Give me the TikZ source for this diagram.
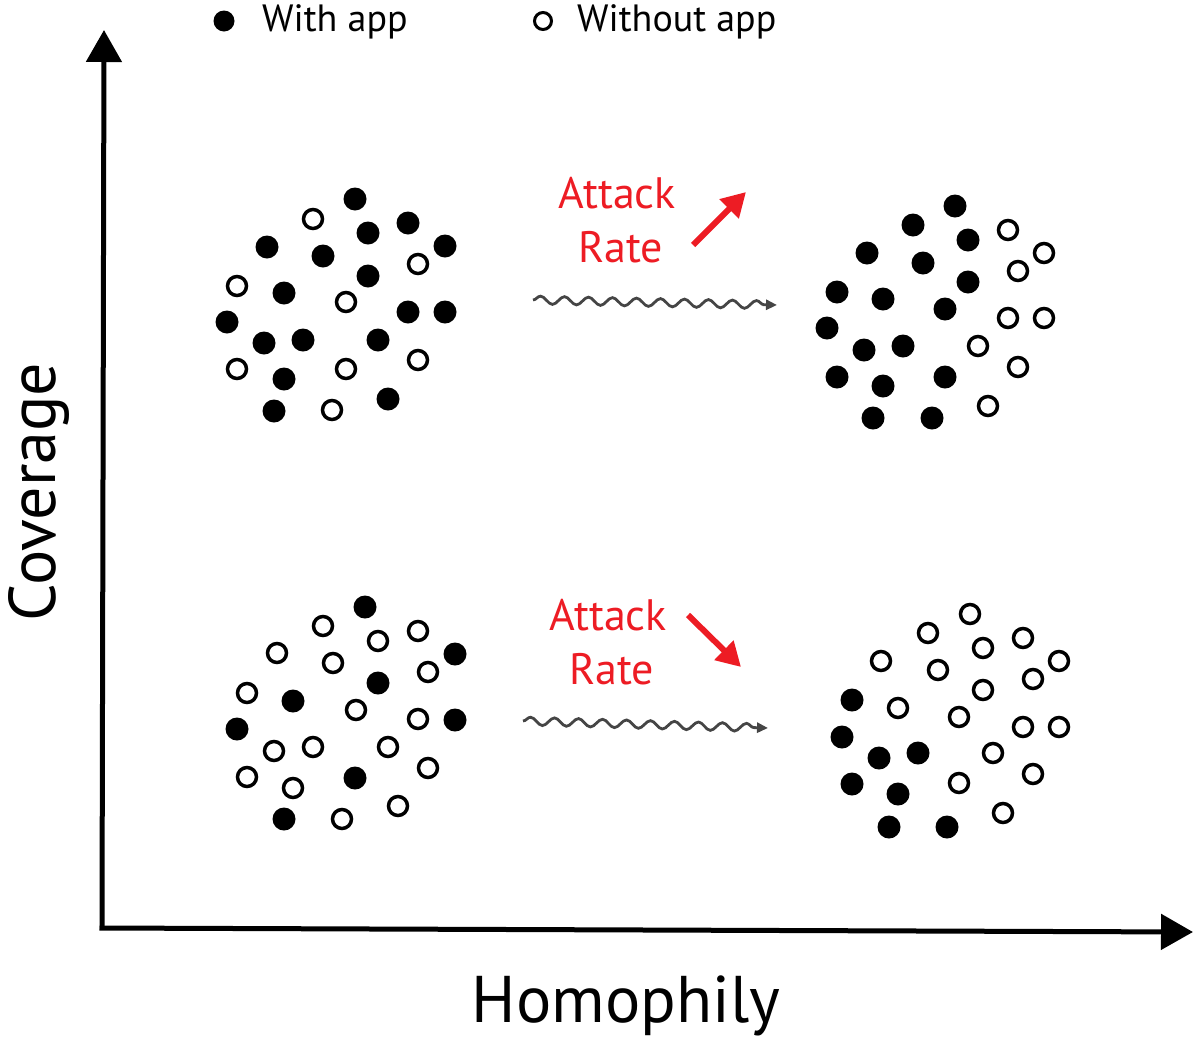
\documentclass[tikz,border=0pt]{standalone}
\usepackage{fontspec}
\setmainfont{PT Sans}
\usepackage{tikz}
\usetikzlibrary{arrows.meta,positioning,decorations.pathmorphing}
\definecolor{arred}{HTML}{ED1C24}
\definecolor{wavegray}{HTML}{454545}

\begin{document}
\begin{tikzpicture}[x=1pt,y=-1pt]
		\tikzstyle{axis}=[line width=5pt,arrows={-Triangle[length=32pt,width=35pt]}]
		\tikzstyle{withapp}=[circle,fill=black,inner sep=0pt,minimum size=23pt]
		\tikzstyle{noapp}=[circle,draw=black,line width=3.5pt,inner sep=0pt,minimum size=19pt]
		\tikzstyle{wave}=[wavegray,line width=2.8pt,decorate,
			decoration={snake,amplitude=4pt,segment length=24pt,post length=8pt},
			arrows={-Triangle[length=11pt,width=10pt]}]
		\tikzstyle{rate}=[line width=6pt,arred,arrows={-Triangle[length=24pt,width=26pt]}]
		\tikzstyle{ratetext}=[text=arred,font=\fontsize{44}{44}\selectfont,anchor=base,inner sep=0pt]

		\useasboundingbox (0,0) rectangle (1200,1042);

		% axes
		\coordinate (origin) at (102,928);
		\coordinate (ytip) at (104,30);
		\coordinate (xtip) at (1193,932);
		\draw [axis] (origin) -- (ytip);
		\draw [axis] ([xshift=-2.5pt]origin) -- (xtip);
		\node[anchor=base,rotate=90,inner sep=0pt,font=\fontsize{66}{66}\selectfont] (ylab) at (55,492) {Coverage};
		\node[anchor=base,inner sep=0pt,font=\fontsize{66}{66}\selectfont] (xlab) at (626,1022) {Homophily};

		% legend
		\node[withapp,minimum size=21pt] (legwith) at (224,21) {};
		\node[anchor=base west,inner sep=0pt,font=\fontsize{38}{38}\selectfont] (legwithtxt) at (262,31) {With app};
		\node[noapp,line width=3pt,minimum size=17pt] (legwithout) at (543,21) {};
		\node[anchor=base west,inner sep=0pt,font=\fontsize{38}{38}\selectfont] (legwithouttxt) at (577,31) {Without app};

		% low homophily, high coverage
		\foreach \x/\y [count=\i] in {355/199,408/223,368/233,445/246,267/247,323/256,368/276,284/293,408/312,445/312,227/322,264/343,303/340,378/340,284/379,388/399,274/411}
			\node[withapp] (tlw\i) at (\x,\y) {};
		\foreach \x/\y [count=\i] in {313/219,418/264,237/286,346/302,237/369,346/369,418/360,332/410}
			\node[noapp] (tlo\i) at (\x,\y) {};

		% high homophily, high coverage
		\foreach \x/\y [count=\i] in {955/206,913/225,968/240,867/253,923/263,968/282,837/292,883/299,945/309,827/328,864/350,903/346,837/377,883/386,945/377,873/418,932/418}
			\node[withapp] (trw\i) at (\x,\y) {};
		\foreach \x/\y [count=\i] in {1008/230,1044/253,1018/271,1008/318,1044/318,978/346,1018/367,988/406}
			\node[noapp] (tro\i) at (\x,\y) {};

		% low homophily, low coverage
		\foreach \x/\y [count=\i] in {365/607,455/654,378/683,293/701,237/729,455/720,355/778,284/819}
			\node[withapp] (blw\i) at (\x,\y) {};
		\foreach \x/\y [count=\i] in {323/626,418/631,378/641,277/653,333/663,428/672,247/693,356/710,418/719,274/751,313/747,388/747,428/768,247/777,293/788,398/806,342/819}
			\node[noapp] (blo\i) at (\x,\y) {};

		% high homophily, low coverage
		\foreach \x/\y [count=\i] in {852/700,842/737,879/758,918/753,852/784,898/794,889/827,947/827}
			\node[withapp] (brw\i) at (\x,\y) {};
		\foreach \x/\y [count=\i] in {970/614,928/633,1023/638,983/648,881/661,938/670,1059/661,1033/679,983/690,898/708,959/717,1023/727,1059/727,993/753,1033/774,959/783,1003/813}
			\node[noapp] (bro\i) at (\x,\y) {};

		% transitions
		\coordinate (topwavestart) at (533,300);
		\coordinate (topwaveend) at (777,305);
		\draw [wave] (topwavestart) -- (topwaveend);
		\node[ratetext] (topattack) at (617,208) {Attack};
		\node[ratetext] (toprate) at (621,262) {Rate};
		\coordinate (topratefrom) at (693,245);
		\coordinate (topratetip) at (746,192);
		\draw [rate] (topratefrom) -- (topratetip);

		\coordinate (botwavestart) at (523,721);
		\coordinate (botwaveend) at (768,728);
		\draw [wave] (botwavestart) -- (botwaveend);
		\node[ratetext] (botattack) at (608,630) {Attack};
		\node[ratetext] (botrate) at (612,684) {Rate};
		\coordinate (botratefrom) at (688,615);
		\coordinate (botratetip) at (741,667);
		\draw [rate] (botratefrom) -- (botratetip);
\end{tikzpicture}
\end{document}
